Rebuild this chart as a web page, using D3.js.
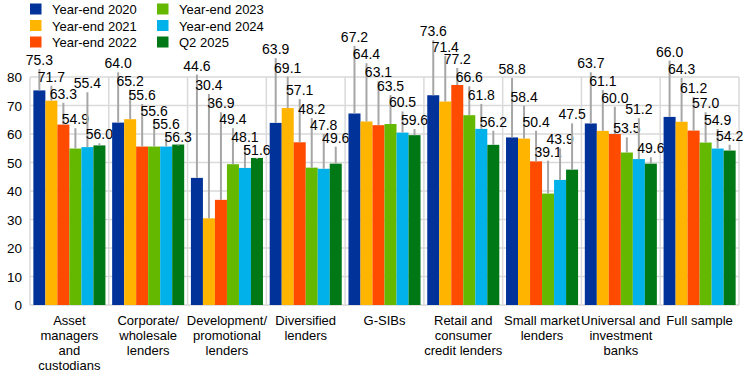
<!DOCTYPE html>
<html>
<head>
<meta charset="utf-8">
<script src="https://cdn.jsdelivr.net/npm/d3@7"></script>
<style>
  body { margin: 0; background: #fff; }
  text { font-family: "Liberation Sans", Arial, sans-serif; fill: #000; }
</style>
</head>
<body>
<div id="chart"></div>
<script>
var width = 745, height = 373;

// data
var categories = ["Asset managers and custodians", "Corporate/ wholesale lenders", "Development/ promotional lenders",
  "Diversified lenders", "G-SIBs", "Retail and consumer credit lenders", "Small market lenders",
  "Universal and investment banks", "Full sample"];
var catLines = [["Asset", "managers", "and", "custodians"], ["Corporate/", "wholesale", "lenders"],
  ["Development/", "promotional", "lenders"], ["Diversified", "lenders"], ["G-SIBs"],
  ["Retail and", "consumer", "credit lenders"], ["Small market", "lenders"],
  ["Universal and", "investment", "banks"], ["Full sample"]];
var seriesNames = ["Year-end 2020", "Year-end 2021", "Year-end 2022", "Year-end 2023", "Year-end 2024", "Q2 2025"];
var ye2020 = [75.3, 64.0, 44.6, 63.9, 67.2, 73.6, 58.8, 63.7, 66.0];
var ye2021 = [71.7, 65.2, 30.4, 69.1, 64.4, 71.4, 58.4, 61.1, 64.3];
var ye2022 = [63.3, 55.6, 36.9, 57.1, 63.1, 77.2, 50.4, 60.0, 61.2];
var ye2023 = [54.9, 55.6, 49.4, 48.2, 63.5, 66.6, 39.1, 53.5, 57.0];
var ye2024 = [55.4, 55.6, 48.1, 47.8, 60.5, 61.8, 43.9, 51.2, 54.9];
var q22025 = [56.0, 56.3, 51.6, 49.6, 59.6, 56.2, 47.5, 49.6, 54.2];
var yTicks = [0, 10, 20, 30, 40, 50, 60, 70, 80];

// where each data label sits (in axis units), hand placed like the original
var labelLevel = [
  [86.0, 80.1, 74.1, 65.2, 77.8, 59.9],
  [84.8, 78.7, 73.7, 68.1, 63.4, 59.1],
  [84.0, 77.2, 70.8, 65.2, 59.1, 54.4],
  [89.8, 83.3, 75.4, 68.8, 63.2, 58.7],
  [94.1, 88.0, 81.6, 76.8, 71.1, 64.9],
  [96.1, 90.6, 86.3, 79.9, 73.7, 64.3],
  [82.8, 73.1, 64.3, 53.8, 58.1, 66.9],
  [84.8, 78.6, 72.7, 62.0, 68.7, 55.0],
  [88.9, 82.8, 76.2, 70.8, 64.9, 59.4]
];

var colors = ["#003299", "#ffb400", "#ff4b00", "#65b800", "#00b1ea", "#007816"];
var series = [ye2020, ye2021, ye2022, ye2023, ye2024, q22025];

var margin = {left: 30, right: 6, top: 77, bottom: 68};

var svg = d3.select("#chart").append("svg")
  .attr("width", width)
  .attr("height", height);

var x0 = d3.scaleBand().domain(d3.range(categories.length))
  .range([margin.left, width - margin.right]).padding(0);
var x1 = d3.scaleBand().domain(d3.range(seriesNames.length))
  .range([0, x0.bandwidth()]).paddingInner(0).paddingOuter(0.28);
var y = d3.scaleLinear().domain([0, 80]).range([height - margin.bottom, margin.top]);

// grid
svg.append("g").selectAll("line.h")
  .data(yTicks).enter().append("line")
  .attr("x1", margin.left).attr("x2", width - margin.right)
  .attr("y1", d => y(d)).attr("y2", d => y(d))
  .attr("stroke", "#d9d9d9").attr("stroke-width", 1.5);

svg.append("g").selectAll("line.v")
  .data(d3.range(categories.length + 1)).enter().append("line")
  .attr("x1", d => margin.left + d * x0.step()).attr("x2", d => margin.left + d * x0.step())
  .attr("y1", y(0)).attr("y2", y(80))
  .attr("stroke", "#d9d9d9").attr("stroke-width", 1.5);

// y axis labels
svg.append("g").selectAll("text")
  .data(yTicks).enter().append("text")
  .attr("x", 22).attr("y", d => y(d) + 5)
  .attr("text-anchor", "end")
  .style("font-size", "13.5px")
  .text(d => d);

// bars
var groups = svg.append("g").selectAll("g")
  .data(categories).enter().append("g")
  .attr("transform", (d, i) => "translate(" + x0(i) + ",0)");

groups.selectAll("rect")
  .data((d, i) => series.map((s, j) => ({j: j, v: s[i]})))
  .enter().append("rect")
  .attr("x", d => x1(d.j))
  .attr("width", x1.bandwidth())
  .attr("y", d => y(d.v))
  .attr("height", d => y(0) - y(d.v))
  .attr("fill", d => colors[d.j]);

// leader lines and labels
var labs = groups.selectAll("g.lab")
  .data((d, i) => series.map((s, j) => ({j: j, v: s[i], at: labelLevel[i][j]})))
  .enter().append("g");

labs.append("line")
  .attr("x1", d => x1(d.j) + x1.bandwidth() / 2)
  .attr("x2", d => x1(d.j) + x1.bandwidth() / 2)
  .attr("y1", d => y(d.v))
  .attr("y2", d => y(d.at) + 9)
  .attr("stroke", "#a6a6a6").attr("stroke-width", 2);

labs.append("text")
  .attr("x", d => x1(d.j) + x1.bandwidth() / 2)
  .attr("y", d => y(d.at) + 5)
  .attr("text-anchor", "middle")
  .style("font-size", "14px")
  .text(d => d.v.toFixed(1));

// category labels
groups.append("text")
  .attr("text-anchor", "middle")
  .style("font-size", "13px")
  .selectAll("tspan")
  .data((d, i) => catLines[i]).enter().append("tspan")
  .attr("x", x0.bandwidth() / 2)
  .attr("y", (d, k) => 325 + k * 15)
  .text(d => d);

// legend
var legend = svg.append("g").selectAll("g")
  .data(seriesNames).enter().append("g")
  .attr("transform", (d, i) => "translate(" + (i < 3 ? 30 : 157) + "," + (9 + (i % 3) * 16.5) + ")");
legend.append("rect")
  .attr("x", 0).attr("y", -5.5).attr("width", 11.5).attr("height", 11)
  .attr("fill", (d, i) => colors[i]);
legend.append("text")
  .attr("x", 22).attr("y", 5)
  .style("font-size", "13px")
  .text(d => d);
</script>
</body>
</html>
